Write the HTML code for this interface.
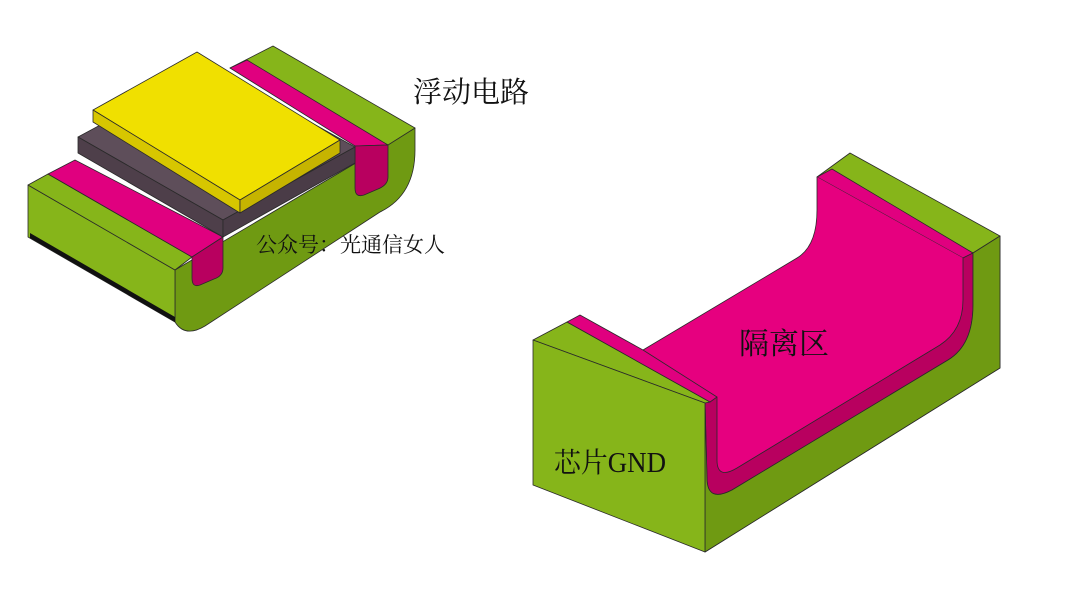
<!DOCTYPE html>
<html><head><meta charset="utf-8"><style>
body{margin:0;background:#fff;width:1080px;height:608px;overflow:hidden;}
svg{position:absolute;left:0;top:0;}
.t{font-family:"Liberation Serif","Noto Serif CJK SC",serif;fill:#111;}
</style></head><body>
<svg width="1080" height="608" viewBox="0 0 1080 608">
<g stroke="#2a2a2a" stroke-width="0.8" stroke-linejoin="round">
<!-- LEFT OBJECT -->
<path d="M175,270 L415,128 L415,150 Q415,195 380,212 L205,326 Q185,338 175,322 Z" fill="#6f9a12"/>
<path d="M28,185 L175,270 L175,322 L28,237 Z" fill="#86b51a"/>
<path d="M30,233 L175,317 L175,322 L30,238 Z" fill="#111" stroke="none"/>
<path d="M230,68 L273,46 L415,128 L388,145 Z" fill="#86b51a"/>
<path d="M230,68 L247,60 L388,145 L355,146 Z" fill="#e0007f"/>
<path d="M355,146 L388,145 L388,177 Q388,185 378,189 L364,195 Q355,198 355,188 Z" fill="#b8005f"/>
<path d="M28,185 L48,174 L192,257 L175,270 Z" fill="#86b51a"/>
<path d="M48,174 L75,160 L223,237 L192,257 Z" fill="#e0007f"/>
<path d="M192,257 L223,237 L223,268 Q223,276 214,279 L200,285 Q192,288 192,278 Z" fill="#b8005f"/>
<path d="M78,137 L210,66 L355,147 L223,220 Z" fill="#5e4e5a"/>
<path d="M78,137 L223,220 L223,237 L78,153 Z" fill="#4e3f4a"/>
<path d="M223,220 L355,147 L355,163 L223,237 Z" fill="#4a3c47"/>
<path d="M93,110 L197,52 L340,140 L240,200 Z" fill="#f0e000"/>
<path d="M93,110 L240,200 L240,213 L93,122 Z" fill="#d7c600"/>
<path d="M240,200 L340,140 L340,153 L240,213 Z" fill="#c6b400"/>

<!-- RIGHT OBJECT -->
<path d="M973,253 L1000,236 L1000,368 L705,552 L705,403 Z" fill="#5f8c10"/>
<path d="M817,177 L850,153 L1000,236 L973,253 Z" fill="#86b51a"/>
<path d="M817,177 L832,169 L973,253 L963,258 Z" fill="#e0007f"/>
<path d="M817,177 L963,258 L963,300 Q963,330 940,345 L737,468 Q717,480 717,460 L717,397 L643,350 L797,258 Q817,246 817,210 Z" fill="#e6007f" stroke="none"/>
<path d="M817,177 L817,210 Q817,246 797,258 L643,350" fill="none"/>
<path d="M705,403 L717,397 L717,460 Q717,480 737,468 L940,345 Q963,330 963,300 L963,258 L973,253 L973,305 Q973,345 948,360 L732,490 Q707,503 707,478 Z" fill="#b8005f"/>
<path d="M705,403 L707,478 Q707,503 732,490 L948,360 Q973,345 973,305 L973,253 L1000,236 L1000,368 L705,552 Z" fill="#6f9a12"/>
<path d="M533,340 L567,322 L710,402 L705,403 Z" fill="#86b51a"/>
<path d="M567,322 L580,315 L643,350 L717,397 L710,402 Z" fill="#e0007f"/>
<path d="M533,340 L705,403 L705,552 L533,485 Z" fill="#86b51a"/>
</g>
<text class="t" x="413" y="102" font-size="29">浮动电路</text>
<text class="t" x="256" y="252" font-size="21">公众号：光通信女人</text>
<text class="t" x="739" y="354" font-size="30">隔离区</text>
<text class="t" x="554" y="472" font-size="28" textLength="112" lengthAdjust="spacingAndGlyphs">芯片GND</text>
</svg>
</body></html>
